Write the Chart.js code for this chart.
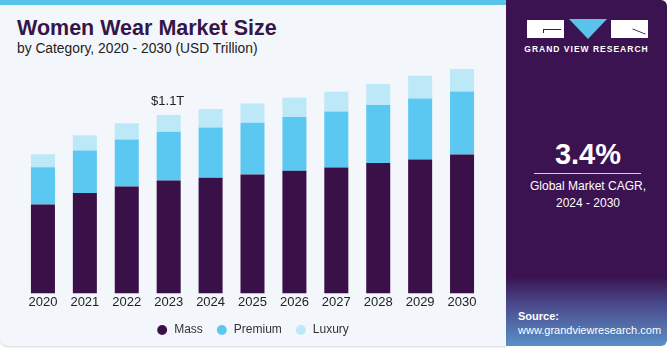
<!DOCTYPE html>
<html><head><meta charset="utf-8">
<script src="https://cdn.jsdelivr.net/npm/chart.js@4"></script>
<style>
html,body{margin:0;padding:0;width:671px;height:350px;background:#fff;overflow:hidden;font-family:"Liberation Sans",Arial,sans-serif;}
#card{position:absolute;left:0;top:0;width:506px;height:346px;background:#f3f6fb;border-radius:0 0 0 8px;box-shadow:0 1px 2px #d0d4dc;overflow:hidden;}
#stripe{position:absolute;left:0;top:0;width:506px;height:5px;background:#5bc3ea;}
#title{position:absolute;left:17px;top:16px;font-size:21.5px;font-weight:900;color:#361548;font-family:"Liberation Sans",Arial,sans-serif;}
#sub{position:absolute;left:17px;top:41px;font-size:13.8px;color:#222;}
#cv{position:absolute;left:0;top:0;}
#panel{position:absolute;left:506px;top:0;width:161px;height:346px;background:linear-gradient(to bottom,#3a1350 0%,#3a1350 80%,#4a4a8a 88%,#5a90c8 100%);border-radius:0 6px 6px 0;overflow:hidden;}
.w{position:absolute;background:#fff;}
#tri{position:absolute;left:63px;top:19px;width:0;height:0;border-left:19px solid transparent;border-right:19px solid transparent;border-top:20px solid #5bc3ea;}
#gvr{position:absolute;left:0;width:161px;top:44px;text-align:center;color:#fff;font-size:8.5px;font-weight:bold;letter-spacing:1px;}
#cagr{position:absolute;left:0;width:164px;top:138px;text-align:center;color:#fff;font-size:29px;font-weight:bold;}
#line{position:absolute;left:28px;width:107px;top:173px;height:1px;background:#d8cce0;}
#cl{position:absolute;left:0;width:164px;top:178px;text-align:center;color:#fff;font-size:12px;line-height:17px;}
#src{position:absolute;left:12px;top:309px;color:#fff;font-size:11px;line-height:14px;}
</style></head>
<body>
<div id="card"><div id="stripe"></div>
<div id="title">Women Wear Market Size</div>
<div id="sub">by Category, 2020 - 2030 (USD Trillion)</div>
<canvas id="cv" width="506" height="346"></canvas>
</div>
<div id="panel">
 <div class="w" style="left:21px;top:20px;width:37px;height:18px;"></div>
 <div style="position:absolute;left:37px;top:29px;width:18px;height:1px;background:#3a1350;"></div>
 <div style="position:absolute;left:37px;top:29px;width:1px;height:4px;background:#3a1350;"></div>
 <div id="tri"></div>
 <div class="w" style="left:105px;top:20px;width:37px;height:18px;"></div>
 <div style="position:absolute;left:126px;top:31px;width:14px;height:1px;background:#3a1350;transform:rotate(22deg);"></div>
 <div id="gvr">GRAND VIEW RESEARCH</div>
 <div id="cagr">3.4%</div>
 <div id="line"></div>
 <div id="cl">Global Market CAGR,<br>2024 - 2030</div>
 <div id="src"><b>Source:</b><br>www.grandviewresearch.com</div>
</div>
<script>
const years = ["2020","2021","2022","2023","2024","2025","2026","2027","2028","2029","2030"];
const mass    = [0.548,0.620,0.659,0.696,0.713,0.733,0.756,0.776,0.805,0.826,0.857];
const premium = [0.231,0.261,0.290,0.301,0.311,0.320,0.332,0.346,0.357,0.377,0.389];
const luxury  = [0.080,0.095,0.101,0.103,0.114,0.119,0.119,0.122,0.130,0.140,0.138];
const annotIndex = 3;
const annotText = "$1.1T";

const annot = {
  id:'annot',
  afterDatasetsDraw(chart){
    const ctx = chart.ctx;
    const meta = chart.getDatasetMeta(2);
    const bar = meta.data[annotIndex];
    ctx.save();
    ctx.fillStyle = '#222';
    ctx.font = '13px "Liberation Sans", Arial, sans-serif';
    ctx.textAlign = 'center';
    ctx.textBaseline = 'bottom';
    ctx.fillText(annotText, bar.x - 1, bar.y - 7);
    ctx.restore();
  }
};

new Chart(document.getElementById('cv'), {
  type:'bar',
  data:{
    labels: years,
    datasets:[
      {label:'Mass', data:mass, backgroundColor:'#3a1048'},
      {label:'Premium', data:premium, backgroundColor:'#5bc8f2'},
      {label:'Luxury', data:luxury, backgroundColor:'#bde8f8'}
    ]
  },
  options:{
    responsive:false,
    animation:false,
    layout:{padding:{left:22,right:23,top:60,bottom:0}},
    datasets:{bar:{categoryPercentage:1,barPercentage:0.573}},
    scales:{
      x:{stacked:true, grid:{display:false, drawTicks:false}, border:{display:false},
         ticks:{color:'#222', font:{size:13, family:'"Liberation Sans", Arial, sans-serif'}, padding:1, maxRotation:0}},
      y:{stacked:true, display:false, min:0, max:1.44}
    },
    plugins:{
      legend:{position:'bottom', labels:{usePointStyle:true, pointStyle:'circle', boxWidth:12, boxHeight:7, padding:13, color:'#333', font:{size:12, family:'"Liberation Sans", Arial, sans-serif'}}},
      tooltip:{enabled:false}
    }
  },
  plugins:[annot]
});
</script>
</body></html>
